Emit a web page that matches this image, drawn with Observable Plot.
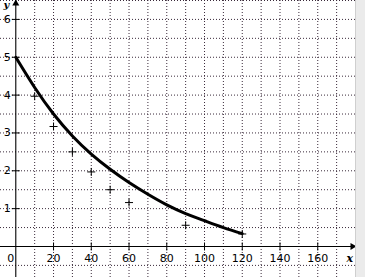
<!DOCTYPE html>
<html><head><meta charset="utf-8">
<script src="https://cdn.jsdelivr.net/npm/d3@7"></script>
<script src="https://cdn.jsdelivr.net/npm/@observablehq/plot@0.6"></script>
<style>
html,body{margin:0;padding:0;background:#ebebeb;}
#chart{width:365px;height:277px;background:#ebebeb;overflow:hidden;}
#chart svg{display:block;background:#fff;border-right:1px solid #cfcfcf;}
</style></head><body><div id="chart"></div>
<script>
// fitted curve
const curveX = [0, 10, 20, 30, 40, 50, 60, 70, 80, 90, 100, 110, 120];
const curveY = [5, 4.2, 3.5, 2.92, 2.44, 2.04, 1.69, 1.38, 1.1, 0.87, 0.68, 0.5, 0.34];
// observed points
const obsX = [10, 20, 30, 40, 50, 60, 90, 120];
const obsY = [3.97, 3.17, 2.5, 1.97, 1.5, 1.16, 0.56, 0.33];
// ticks and grid
const xTicks = [20, 40, 60, 80, 100, 120, 140, 160];
const yTicks = [1, 2, 3, 4, 5, 6];
const gridX = [10, 20, 30, 40, 50, 60, 70, 80, 90, 100, 110, 120, 130, 140, 150, 160, 170];
const gridY = [-0.5, 0.5, 1, 1.5, 2, 2.5, 3, 3.5, 4, 4.5, 5, 5.5, 6, 6.5];

const curve = curveX.map((x, i) => ({x, y: curveY[i]}));
const obs = obsX.map((x, i) => ({x, y: obsY[i]}));

const vLine = {draw(c, s) { const h = Math.sqrt(s / Math.PI); c.moveTo(0, -h); c.lineTo(0, h); }};
const hLine = {draw(c, s) { const h = Math.sqrt(s / Math.PI); c.moveTo(-h, 0); c.lineTo(h, 0); }};
const plusSym = {draw(c, s) { const h = Math.sqrt(s / Math.PI); c.moveTo(-h, 0); c.lineTo(h, 0); c.moveTo(0, -h); c.lineTo(0, h); }};

const font = "DejaVu Sans, sans-serif";
const gridStroke = "#3a2a3a";

const plot = Plot.plot({
  width: 355,
  height: 277,
  margin: 0,
  x: {domain: [-8.1, 180], axis: null},
  y: {domain: [-0.82, 6.5], axis: null},
  style: {fontFamily: font, fontSize: "11px", background: "#fff"},
  marks: [
    Plot.ruleX(gridX, {x: d => d, stroke: gridStroke, strokeDasharray: "1,2", strokeWidth: 1}),
    Plot.ruleY(gridY, {y: d => d, stroke: gridStroke, strokeDasharray: "1,2", strokeWidth: 1}),
    Plot.ruleY([0], {y: d => d, stroke: "black", strokeWidth: 1.1}),
    Plot.ruleX([0], {x: d => d, stroke: "black", strokeWidth: 1.1}),
    Plot.dot([0], {y: d => d, frameAnchor: "right", dx: -3, symbol: "triangle", rotate: 90, r: 2.6, fill: "black", stroke: "none"}),
    Plot.dot([0], {x: d => d, frameAnchor: "top", dy: 3, symbol: "triangle", r: 2.6, fill: "black", stroke: "none"}),
    Plot.dot(xTicks, {x: d => d, y: () => 0, symbol: vLine, r: 4, stroke: "black", strokeWidth: 1}),
    Plot.dot(yTicks, {y: d => d, x: () => 0, symbol: hLine, r: 4, stroke: "black", strokeWidth: 1}),
    Plot.text(xTicks, {x: d => d, y: () => 0, text: d => String(d), dy: 12, fill: "black", fontSize: 11}),
    Plot.text([0], {x: d => d, y: () => 0, text: d => String(d), dx: -5, dy: 12, fill: "black", fontSize: 11}),
    Plot.text(yTicks, {y: d => d, x: () => 0, text: d => String(d), dx: -5, textAnchor: "end", fill: "black", fontSize: 11}),
    Plot.text(["y"], {frameAnchor: "top-left", text: d => d, dx: 3, dy: 0, fontFamily: "DejaVu Serif, serif", fontStyle: "italic", fontWeight: "bold", fontSize: 10, fill: "black"}),
    Plot.text(["x"], {y: () => 0, frameAnchor: "right", text: d => d, dx: -9, dy: 12, textAnchor: "start", fontFamily: "DejaVu Serif, serif", fontStyle: "italic", fontWeight: "bold", fontSize: 11, fill: "black"}),
    Plot.line(curve, {x: "x", y: "y", curve: "natural", stroke: "black", strokeWidth: 3}),
    Plot.dot(obs, {x: "x", y: "y", symbol: plusSym, r: 4, stroke: "black", strokeWidth: 1})
  ]
});
document.getElementById("chart").appendChild(plot);
</script>
</body></html>
